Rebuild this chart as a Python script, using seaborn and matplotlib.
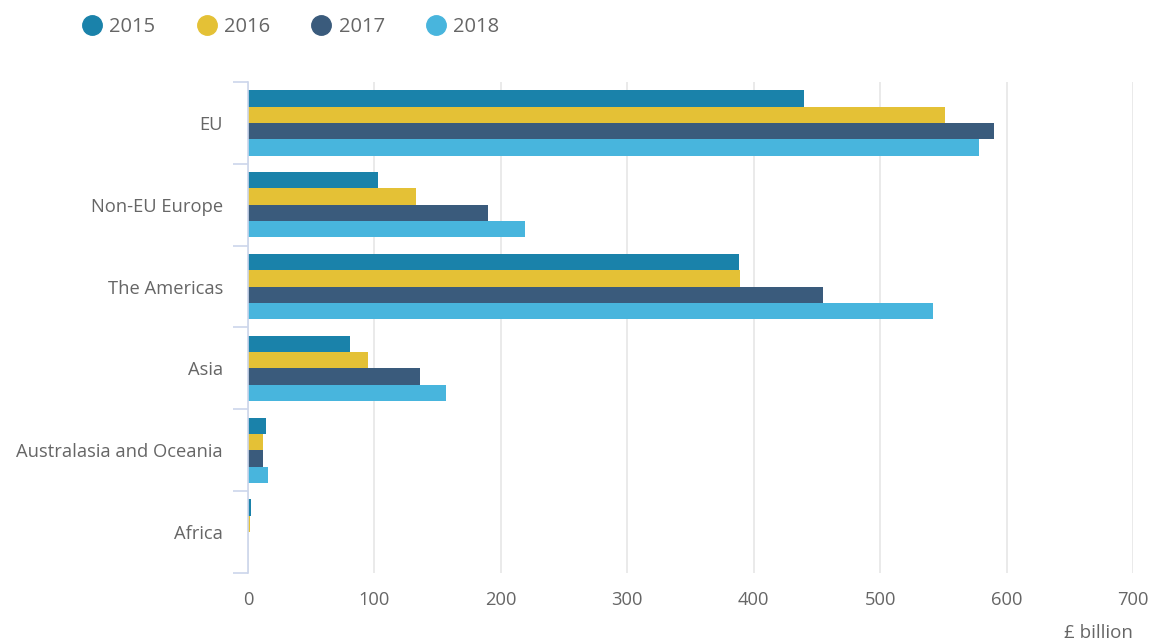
import pandas as pd
import numpy as np
import seaborn as sns
import matplotlib.pyplot as plt
from matplotlib.lines import Line2D

# Values (£ billion)
regions = ["EU", "Non-EU Europe", "The Americas", "Asia",
           "Australasia and Oceania", "Africa"]
years = ["2015", "2016", "2017", "2018"]
v2015 = [440, 103, 388, 81, 14, 2]
v2016 = [551, 133, 389, 95, 12, 1.5]
v2017 = [590, 190, 455, 136, 12, 0]
v2018 = [578, 219, 542, 157, 15.5, 0]
colors = ["#1a82aa", "#e4c136", "#3a5b7c", "#48b5dd"]

df = pd.DataFrame({
    "region": regions * 4,
    "year": sum([[y] * len(regions) for y in years], []),
    "value": v2015 + v2016 + v2017 + v2018,
})

sns.set_style("white")
plt.rcParams['font.family'] = ['Open Sans', 'DejaVu Sans']
txt = "#666666"

fig = plt.figure(figsize=(11.51, 6.44), dpi=100)
ax = fig.add_axes([248 / 1151, 1 - 573 / 644, 885 / 1151, 491 / 644])

sns.barplot(data=df, y="region", x="value", hue="year", orient="h",
            palette=colors, width=0.8, saturation=1, linewidth=0,
            order=regions, hue_order=years, legend=False, ax=ax)

ax.set_xlim(0, 700)
ax.set_ylim(len(regions) - 0.5, -0.5)
ax.set_xticks(range(0, 701, 100))
ax.grid(axis="x", color="#e6e6e6", linewidth=1.2)
ax.set_axisbelow(True)
for s in ["top", "right", "bottom"]:
    ax.spines[s].set_visible(False)
ax.spines["left"].set_color("#ccd6eb")
ax.spines["left"].set_linewidth(1.2)

# category boundary ticks on the y axis
ax.set_yticks(np.arange(-0.5, len(regions)), minor=True)
ax.tick_params(axis="y", which="minor", left=True, length=11, color="#ccd6eb", width=1.2)
ax.tick_params(axis="y", which="major", length=0, pad=18, labelsize=13.2, labelcolor=txt)
ax.tick_params(axis="x", length=0, pad=13, labelsize=13.2, labelcolor=txt)

ax.set_ylabel("")
ax.set_xlabel("")
fig.text(1133 / 1151, 1 - 633 / 644, "£ billion", ha="right", va="center",
         fontsize=13.5, color=txt)

handles = [Line2D([], [], marker="o", linestyle="", markersize=14,
                  markerfacecolor=c, markeredgecolor=c) for c in colors]
fig.legend(handles, years, loc="center left", bbox_to_anchor=(62 / 1151, 1 - 27 / 644),
           ncol=4, frameon=False, fontsize=14.5, labelcolor=txt,
           handletextpad=0.25, columnspacing=1.95, handlelength=1.2)

plt.savefig("out.png", dpi=100)
